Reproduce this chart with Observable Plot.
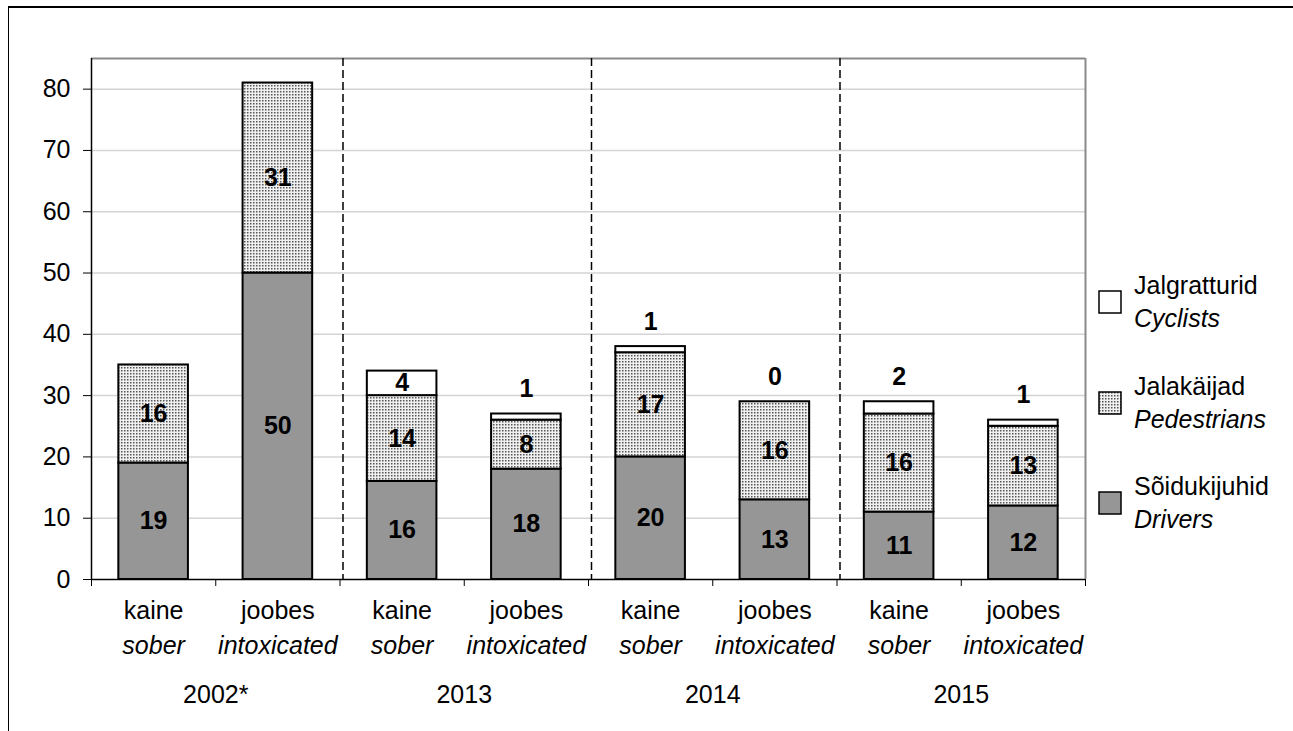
<!DOCTYPE html>
<html>
<head>
<meta charset="utf-8">
<script src="https://cdn.jsdelivr.net/npm/d3@7"></script>
<script src="https://cdn.jsdelivr.net/npm/@observablehq/plot@0.6"></script>
<style>
  html, body { margin: 0; padding: 0; background: #fff; overflow: hidden; }
  body { width: 1293px; height: 731px; position: relative; font-family: "Liberation Sans", Arial, sans-serif; }
  #border { position: absolute; left: 8px; top: 6px; width: 1300px; height: 760px; border-left: 1.5px solid #000; border-top: 2px solid #000; box-sizing: border-box; }
  #chart { position: absolute; left: 0; top: 0; }
  .leg { position: absolute; left: 1098px; display: flex; align-items: center; font-size: 25px; line-height: 33px; color: #000; }
  .leg svg { margin-right: 12px; flex: none; }
  .leg .en { font-style: italic; }
</style>
</head>
<body>
<svg width="0" height="0" style="position:absolute">
  <defs>
    <pattern id="dots" width="3" height="3" patternUnits="userSpaceOnUse">
      <rect width="3" height="3" fill="#f0f0f0"></rect>
      <rect x="1" y="1" width="1.5" height="1.5" fill="#555"></rect>
    </pattern>
  </defs>
</svg>
<div id="border"></div>
<div id="chart"></div>
<div id="legend"></div>
<script>
// ---- data ----
const years = ["2002*", "2013", "2014", "2015"];
const statusEt = ["kaine", "joobes"];
const statusEn = ["sober", "intoxicated"];
const drivers = [19, 50, 16, 18, 20, 13, 11, 12];
const pedestrians = [16, 31, 14, 8, 17, 16, 16, 13];
const cyclists = [null, null, 4, 1, 1, 0, 2, 1];
const yTicks = [0, 10, 20, 30, 40, 50, 60, 70, 80];
const seriesEt = ["Jalgratturid", "Jalakäijad", "Sõidukijuhid"];
const seriesEn = ["Cyclists", "Pedestrians", "Drivers"];
const seriesFill = ["#ffffff", "url(#dots)", "#969696"];

// ---- build table ----
const rows = drivers.map((d, i) => ({
  i, d, p: pedestrians[i], c: cyclists[i],
  et: statusEt[i % 2], en: statusEn[i % 2]
}));
const cycRows = rows.filter(r => r.c != null);
const cycInside = cycRows.filter(r => r.c >= 3);
const cycAbove = cycRows.filter(r => r.c < 3);
const yearRows = years.map((y, j) => ({ y, j }));

const halfBar = 0.28;
const bx1 = r => r.i + 0.5 - halfBar;
const bx2 = r => r.i + 0.5 + halfBar;
const cx = r => r.i + 0.5;
const FS = 25;

const chart = Plot.plot({
  width: 1293,
  height: 731,
  marginLeft: 91,
  marginRight: 208,
  marginTop: 58,
  marginBottom: 152,
  x: { domain: [0, 8], axis: null },
  y: { domain: [0, 85], axis: null },
  style: { fontFamily: "'Liberation Sans', Arial, sans-serif", fontSize: FS + "px", background: "transparent", overflow: "visible" },
  marks: [
    Plot.ruleY(yTicks.filter(v => v > 0), { stroke: "#d4d4d4", strokeWidth: 1.5 }),
    Plot.ruleY([85], { stroke: "#8a8a8a", strokeWidth: 2 }),
    Plot.ruleX([8], { stroke: "#8a8a8a", strokeWidth: 2 }),
    Plot.ruleX([2, 4, 6], { stroke: "#000", strokeWidth: 1.5, strokeDasharray: "8,4", dx: 3 }),
    // drivers
    Plot.rect(rows, { x1: bx1, x2: bx2, y1: () => 0, y2: r => r.d, fill: "#969696", stroke: "#000", strokeWidth: 2 }),
    // pedestrians
    Plot.rect(rows, { x1: bx1, x2: bx2, y1: r => r.d, y2: r => r.d + r.p, fill: "url(#dots)", stroke: "#000", strokeWidth: 2 }),
    // cyclists
    Plot.rect(cycRows.filter(r => r.c > 0), { x1: bx1, x2: bx2, y1: r => r.d + r.p, y2: r => r.d + r.p + r.c, fill: "#fff", stroke: "#000", strokeWidth: 2 }),
    // axes
    Plot.axisY({ ticks: yTicks, tickSize: 8, tickPadding: 13, fontSize: FS, tickFormat: d => String(d) }),
    Plot.axisX({ ticks: d3.range(0, 9), tickSize: 7, tickFormat: () => "", stroke: "#000" }),
    Plot.ruleY([0], { stroke: "#000", strokeWidth: 1.5 }),
    Plot.ruleX([0], { stroke: "#000", strokeWidth: 1.5 }),
    // value labels
    Plot.text(rows, { x: cx, y: r => r.d / 2, text: r => String(r.d), fontSize: FS, fontWeight: "bold", fill: "#000" }),
    Plot.text(rows, { x: cx, y: r => r.d + r.p / 2, text: r => String(r.p), fontSize: FS, fontWeight: "bold", fill: "#000" }),
    Plot.text(cycInside, { x: cx, y: r => r.d + r.p + r.c / 2, text: r => String(r.c), fontSize: FS, fontWeight: "bold", fill: "#000" }),
    Plot.text(cycAbove, { x: cx, y: r => r.d + r.p + r.c, dy: -25, text: r => String(r.c), fontSize: FS, fontWeight: "bold", fill: "#000" }),
    // category labels
    Plot.text(rows, { x: cx, y: () => 0, dy: 31, text: "et", fontSize: FS, fill: "#000" }),
    Plot.text(rows, { x: cx, y: () => 0, dy: 66, text: "en", fontSize: FS, fontStyle: "italic", fill: "#000" }),
    Plot.text(yearRows, { x: r => 2 * r.j + 1, y: () => 0, dy: 115, text: "y", fontSize: FS, fill: "#000" })
  ]
});
document.getElementById("chart").appendChild(chart);

// ---- legend ----
const legendCenters = [302, 403, 503];
const legend = document.getElementById("legend");
seriesEt.forEach((name, k) => {
  const item = document.createElement("div");
  item.className = "leg";
  item.style.top = (legendCenters[k] - 33) + "px";
  item.innerHTML = `<svg width="24" height="24"><rect x="1" y="1" width="22" height="22" fill="${seriesFill[k]}" stroke="#000" stroke-width="1.5"></rect></svg>` +
    `<div><div>${name}</div><div class="en">${seriesEn[k]}</div></div>`;
  legend.appendChild(item);
});
</script>
</body>
</html>
